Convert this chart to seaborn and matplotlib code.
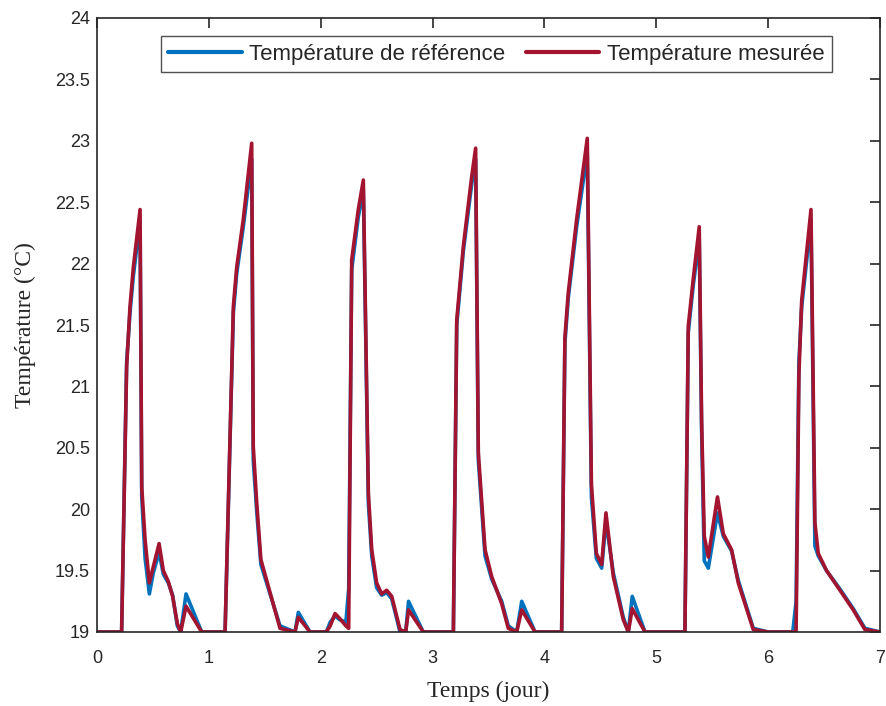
import numpy as np
import pandas as pd
import seaborn as sns
import matplotlib
matplotlib.use("Agg")
import matplotlib.pyplot as plt

# Time (days)
t = [0.00, 0.22, 0.265, 0.295, 0.325, 0.385, 0.40, 0.43, 0.468, 0.503, 0.555, 0.593, 0.638, 0.676, 0.718, 0.748, 0.796, 0.936,
     1.145, 1.219, 1.249, 1.308, 1.383, 1.397, 1.428, 1.465, 1.636, 1.77, 1.80, 1.904,
     2.05, 2.085, 2.128, 2.17, 2.225, 2.25, 2.277, 2.336, 2.381, 2.426, 2.456, 2.50, 2.545, 2.59, 2.635, 2.709, 2.76, 2.785, 2.917,
     3.186, 3.216, 3.275, 3.35, 3.385, 3.409, 3.469, 3.529, 3.618, 3.677, 3.752, 3.797, 3.916,
     4.154, 4.183, 4.213, 4.288, 4.383, 4.42, 4.464, 4.512, 4.55, 4.616, 4.705, 4.75, 4.785, 4.899,
     5.256, 5.286, 5.33, 5.384, 5.405, 5.429, 5.465, 5.547, 5.599, 5.673, 5.733, 5.867,
     6.0, 6.22, 6.25, 6.275, 6.30, 6.383, 6.418, 6.448, 6.522, 6.642, 6.761, 6.865, 7.0]

# Reference temperature (°C)
t_ref = [19.0, 19.0, 21.20, 21.60, 21.90, 22.35, 20.10, 19.60, 19.31, 19.48, 19.65, 19.47, 19.40, 19.30, 19.05, 19.0, 19.31, 19.0,
         19.0, 21.60, 21.92, 22.30, 22.85, 20.40, 19.98, 19.55, 19.05, 19.0, 19.16, 19.0,
         19.0, 19.08, 19.13, 19.10, 19.08, 19.35, 21.95, 22.38, 22.60, 20.05, 19.62, 19.36, 19.30, 19.32, 19.27, 19.0, 19.0, 19.25, 19.0,
         19.0, 21.50, 22.10, 22.65, 22.85, 20.40, 19.62, 19.43, 19.25, 19.05, 19.0, 19.25, 19.0,
         19.0, 21.35, 21.72, 22.30, 22.90, 20.10, 19.60, 19.52, 19.90, 19.48, 19.12, 19.0, 19.29, 19.0,
         19.0, 21.44, 21.82, 22.20, 20.65, 19.58, 19.52, 19.97, 19.78, 19.66, 19.42, 19.03,
         19.0, 19.0, 19.25, 21.20, 21.65, 22.35, 19.70, 19.62, 19.50, 19.35, 19.19, 19.03, 19.0]

# Measured temperature (°C)
t_mes = [19.0, 19.0, 21.16, 21.65, 21.97, 22.44, 20.18, 19.75, 19.40, 19.53, 19.72, 19.50, 19.41, 19.29, 19.07, 19.0, 19.21, 19.0,
         19.0, 21.65, 21.97, 22.36, 22.98, 20.51, 20.05, 19.59, 19.03, 19.0, 19.12, 19.0,
         19.0, 19.05, 19.15, 19.11, 19.05, 19.03, 22.03, 22.44, 22.68, 20.13, 19.67, 19.40, 19.31, 19.34, 19.29, 19.02, 19.0, 19.18, 19.0,
         19.0, 21.54, 22.14, 22.71, 22.94, 20.46, 19.67, 19.45, 19.23, 19.03, 19.0, 19.18, 19.0,
         19.0, 21.40, 21.76, 22.36, 23.02, 20.20, 19.64, 19.55, 19.97, 19.45, 19.10, 19.0, 19.19, 19.0,
         19.0, 21.49, 21.87, 22.30, 20.73, 19.78, 19.61, 20.10, 19.80, 19.67, 19.40, 19.02,
         19.0, 19.0, 19.0, 21.10, 21.70, 22.44, 19.89, 19.64, 19.50, 19.34, 19.18, 19.02, 19.0]

series_names = ["Température de référence", "Température mesurée"]
colors = ["#0072BD", "#A2142F"]

df = pd.concat([
    pd.DataFrame({"t": t, "T": t_ref, "s": series_names[0]}),
    pd.DataFrame({"t": t, "T": t_mes, "s": series_names[1]}),
], ignore_index=True)

sns.set_theme(style="white")
plt.rcParams["font.family"] = ["Liberation Sans", "DejaVu Sans"]

fig = plt.figure(figsize=(8.86, 7.06), dpi=100)
ax = fig.add_axes([97/886, (706-632)/706, (880-97)/886, (632-18)/706])

sns.lineplot(data=df, x="t", y="T", hue="s", palette=dict(zip(series_names, colors)),
             linewidth=2.6, ax=ax, sort=False, estimator=None)

ax.set_xlim(0, 7)
ax.set_ylim(19, 24)
ax.set_xticks(range(0, 8))
ax.set_yticks(np.arange(19, 24.01, 0.5))
ax.set_yticklabels([f"{v:g}" for v in np.arange(19, 24.01, 0.5)])
ax.tick_params(direction="in", length=7, width=1.2, top=True, right=True,
               labelsize=13, colors="#262626", pad=5)
ax.tick_params(axis="x", pad=13)
for sp in ax.spines.values():
    sp.set_visible(True)
    sp.set_color("#262626")
    sp.set_linewidth(1.2)

ax.set_xlabel("Temps (jour)", fontfamily="Liberation Serif", fontsize=17, color="#262626", labelpad=10)
ax.set_ylabel("Température (°C)", fontfamily="Liberation Serif", fontsize=17, color="#262626", labelpad=14)

leg = ax.legend(loc="upper center", ncol=2, frameon=True, fancybox=False, fontsize=16,
                handlelength=3.3, columnspacing=0.9, handletextpad=0.35,
                bbox_to_anchor=(0.510, 0.971), borderpad=0.35, borderaxespad=0.0)
leg.get_frame().set_edgecolor("#262626")
leg.get_frame().set_linewidth(1.0)
for line in leg.get_lines():
    line.set_linewidth(3.0)

fig.savefig("out.png", dpi=100)
